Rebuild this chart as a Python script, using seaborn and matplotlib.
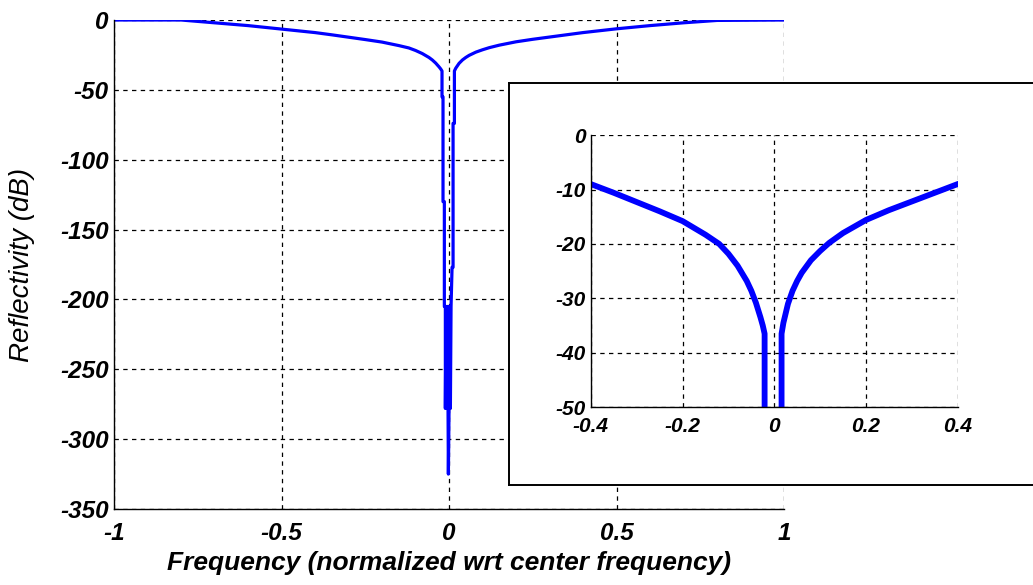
import matplotlib
matplotlib.use("Agg")
import matplotlib.pyplot as plt
import seaborn as sns
import pandas as pd

# Reflectivity spectrum, ordered along the trace
freq = [-1.0, -0.8, -0.75, -0.7, -0.6, -0.5, -0.4, -0.35, -0.3, -0.25, -0.2,
        -0.15, -0.12, -0.1, -0.08, -0.06, -0.05, -0.04, -0.03, -0.025, -0.021,
        -0.021, -0.018, -0.018, -0.014, -0.014, -0.011, -0.011,
        -0.009, -0.007, -0.005, -0.003, -0.002, 0.0, 0.002, 0.004, 0.006,
        0.009, 0.012, 0.012, 0.016, 0.016, 0.02, 0.03, 0.04, 0.05, 0.06, 0.08,
        0.1, 0.12, 0.15, 0.2, 0.25, 0.3, 0.35, 0.4, 0.5, 0.6, 0.7, 0.8, 1.0]
refl = [0.0, 0.0, -1.0, -2.0, -4.0, -6.5, -9.0, -10.6, -12.3, -14.0, -15.8,
        -18.3, -20.0, -21.8, -24.0, -26.8, -28.6, -30.8, -33.5, -35.0, -36.5,
        -55.0, -55.0, -130.0, -130.0, -205.0, -205.0, -278.0,
        -205.0, -278.0, -205.0, -278.0, -325.0, -278.0, -205.0, -278.0, -205.0,
        -177.0, -177.0, -74.0, -74.0, -36.5, -34.5, -31.0, -28.6, -26.8, -25.3, -23.0,
        -21.3, -19.8, -18.0, -15.6, -13.8, -12.2, -10.6, -9.0, -6.3, -4.0, -2.0, -0.3, 0.0]

main_xticks = [-1, -0.5, 0, 0.5, 1]
main_xlabels = ["-1", "-0.5", "0", "0.5", "1"]
main_yticks = [-350, -300, -250, -200, -150, -100, -50, 0]
inset_xticks = [-0.4, -0.2, 0, 0.2, 0.4]
inset_xlabels = ["-0.4", "-0.2", "0", "0.2", "0.4"]
inset_yticks = [-50, -40, -30, -20, -10, 0]

df = pd.DataFrame({"freq": freq, "refl": refl})

sns.set_theme(style="white")
plt.rcParams["font.family"] = ["Liberation Sans", "DejaVu Sans"]
plt.rcParams["axes.unicode_minus"] = False

fig = plt.figure(figsize=(10.33, 5.85), dpi=100)

main_font = dict(fontsize=17.5, fontweight="bold", fontstyle="italic", color="black")
inset_font = dict(fontsize=15, fontweight="bold", fontstyle="italic", color="black")
grid_kw = dict(color="black", linestyle=(0, (3.5, 3.5)), linewidth=0.9)

# main axes
ax = fig.add_axes([0.1104, 0.1299, 0.6486, 0.8359])
sns.lineplot(data=df, x="freq", y="refl", sort=False, estimator=None,
             color="#0000ff", linewidth=2.3, ax=ax)
ax.set_xlim(-1, 1)
ax.set_ylim(-350, 0)
ax.set_xticks(main_xticks)
ax.set_xticklabels(main_xlabels, **main_font)
ax.set_yticks(main_yticks)
ax.set_yticklabels([str(v) for v in main_yticks], **main_font)
ax.grid(True, **grid_kw)
for s in ["top", "right"]:
    ax.spines[s].set_visible(False)
for s in ["left", "bottom"]:
    ax.spines[s].set_color("black")
    ax.spines[s].set_linewidth(1.0)
ax.tick_params(axis="both", direction="in", length=4, color="black")
ax.tick_params(axis="x", pad=9)
ax.tick_params(axis="y", pad=4)
ax.set_xlabel("Frequency (normalized wrt center frequency)", fontsize=19,
              fontweight="bold", fontstyle="italic", color="black")
ax.xaxis.set_label_coords(0.5, -0.085)
ax.set_ylabel("Reflectivity (dB)", fontsize=20, fontstyle="italic", color="black")
ax.yaxis.set_label_coords(-0.118, 0.5)

# white box behind the inset
box = fig.add_axes([0.4927, 0.171, 0.53, 0.687])
box.set_facecolor("white")
box.set_xticks([])
box.set_yticks([])
for s in box.spines.values():
    s.set_color("black")
    s.set_linewidth(1.4)

# inset axes
ins = fig.add_axes([0.572, 0.304, 0.355, 0.465])
sns.lineplot(data=df, x="freq", y="refl", sort=False, estimator=None,
             color="#0000ff", linewidth=4.2, ax=ins)
ins.set_xlim(-0.4, 0.4)
ins.set_ylim(-50, 0)
ins.set_xticks(inset_xticks)
ins.set_xticklabels(inset_xlabels, **inset_font)
ins.set_yticks(inset_yticks)
ins.set_yticklabels([str(v) for v in inset_yticks], **inset_font)
ins.grid(True, **grid_kw)
for s in ["top", "right"]:
    ins.spines[s].set_visible(False)
for s in ["left", "bottom"]:
    ins.spines[s].set_color("black")
    ins.spines[s].set_linewidth(1.0)
ins.tick_params(axis="both", direction="in", length=4, color="black")
ins.tick_params(axis="x", pad=7)
ins.tick_params(axis="y", pad=4)
ins.set_xlabel("")
ins.set_ylabel("")

fig.savefig("out.png", dpi=100)
